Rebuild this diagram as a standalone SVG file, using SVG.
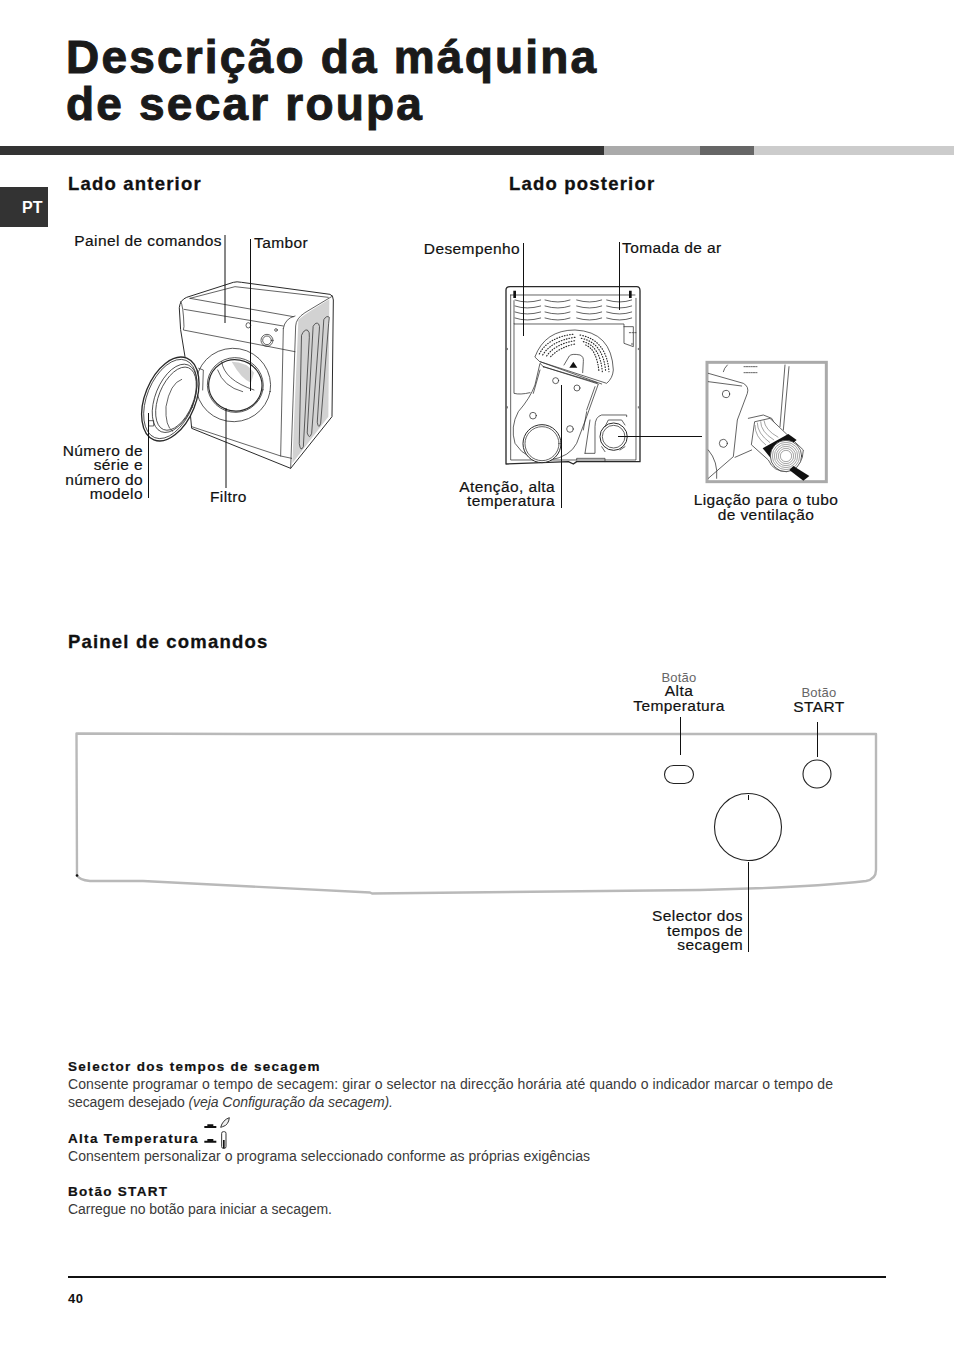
<svg xmlns="http://www.w3.org/2000/svg" width="954" height="1351" viewBox="0 0 954 1351">
<style>
text{font-family:"Liberation Sans",Arial,sans-serif;fill:#111}
.title{font-size:46px;font-weight:700;letter-spacing:2.2px;fill:#1a1a1a;stroke:#1a1a1a;stroke-width:1}
.h{font-size:18.500px;font-weight:700;letter-spacing:1.2px;stroke:#111;stroke-width:.3}
.l{font-size:15.500px;letter-spacing:.4px;stroke:#111;stroke-width:.2}
.s{font-size:13px;fill:#666;letter-spacing:.2px}
.b{font-size:13.500px;font-weight:700;letter-spacing:1.3px;stroke:#111;stroke-width:.2}
.p{font-size:14px;fill:#3a3a3a}
.e{text-anchor:end}
.m{text-anchor:middle}
.lead{stroke:#111;stroke-width:1;fill:none}
.d{fill:none;stroke:#2a2a2a;stroke-width:2.2;stroke-linejoin:round;stroke-linecap:round}
.w{fill:#fff}
.g{fill:#d2d2d2;stroke:none}
.k{fill:#111;stroke:none}
.panel{fill:none;stroke:#b9b9b9;stroke-width:2.4;stroke-linejoin:round}
.btn{fill:#fff;stroke:#222;stroke-width:1.1}
</style>

<g id="header">
<text class="title" x="66" y="73">Descrição da máquina</text>
<text class="title" x="66" y="120">de secar roupa</text>
<rect x="0" y="146" width="604" height="9" fill="#333"/>
<rect x="604" y="146" width="96" height="9" fill="#aaa"/>
<rect x="700" y="146" width="54" height="9" fill="#666"/>
<rect x="754" y="146" width="200" height="9" fill="#ccc"/>
<rect x="0" y="187" width="48" height="40" fill="#333"/>
<text x="22" y="213" style="font-size:16px;font-weight:700;fill:#fff">PT</text>
</g>

<g id="headings">
<text class="h" x="68" y="190">Lado anterior</text>
<text class="h" x="509" y="190">Lado posterior</text>
<text class="h" x="68" y="648">Painel de comandos</text>
</g>

<g id="front-machine" transform="translate(50 220) scale(.33333)">
<path class="d w" style="stroke-width:3" d="M388 262Q390 240 410 232L550 187Q560 184 575 187L840 223Q850 226 850 240L846 590L722 745L425 625L405 410L392 330Z"/>
<path class="g" d="M745 300Q760 285 838 238L835 590L727 730Z"/>
<path class="d" d="M420 235L555 200L835 232M420 235L730 290"/>
<path class="d" d="M722 745L737 318Q738 295 765 278L848 228M700 325Q705 295 735 288M700 325L692 708"/>
<path class="d" d="M392 245Q400 255 402 320L400 330L735 395M402 268L700 318"/>
<path class="d" d="M755 345Q762 328 772 330Q780 335 778 352L760 680Q752 698 748 672ZM790 318Q798 304 806 312Q810 318 808 330L785 640Q778 660 772 640ZM822 298Q830 285 838 292L836 310L812 610Q806 630 802 608Z"/>
<circle class="d" cx="651" cy="361" r="18"/><circle class="d" cx="651" cy="361" r="13"/>
<circle class="d" cx="678" cy="330" r="4"/><ellipse class="d" cx="595" cy="316" rx="7" ry="8"/>
<path class="d" d="M425 620L692 708L725 715"/>
<ellipse class="d" cx="550" cy="495" rx="112" ry="110" transform="rotate(10 550 495)"/>
<path class="g" d="M545 425Q590 425 612 458L603 488Q575 478 545 425Z"/>
<ellipse class="d" cx="556" cy="495" rx="84" ry="82" transform="rotate(10 556 495)"/>
<ellipse class="d" cx="556" cy="496" rx="80" ry="77" transform="rotate(10 556 496)" style="stroke-width:3.500"/>
<path class="d" d="M515 425Q522 480 612 510M503 450Q520 500 578 515"/>
<ellipse class="d w" cx="361" cy="537" rx="76" ry="132" transform="rotate(22 361 537)" style="stroke-width:4"/>
<ellipse class="d" cx="361" cy="537" rx="70" ry="125" transform="rotate(22 361 537)"/>
<ellipse class="d" cx="374" cy="535" rx="58" ry="108" transform="rotate(22 374 535)"/>
<ellipse class="d" cx="378" cy="536" rx="52" ry="100" transform="rotate(22 378 536)"/>
<path class="d" d="M395 478Q360 490 348 560Q345 620 368 634"/>
<rect class="d" x="297" y="602" width="14" height="16"/>
<path class="d" d="M446 445L460 450L458 510"/>
</g>

<g id="back-machine" transform="translate(420 230) scale(.33333)">
<path class="d" style="stroke-width:4" d="M258 180Q258 170 270 170L650 170Q660 170 660 182L660 695L470 695L460 702L445 695L258 702Z"/>
<path class="d" d="M272 195L645 195M272 195L272 690L648 690L648 205"/>
<path class="k" d="M280 182h8v22h-8zM627 182h8v22h-8z"/>
<path class="d" d="M285 210Q320 222 362 210M375 210Q415 222 450 210M470 210Q510 222 545 210M560 210Q600 222 635 210M285 228Q320 240 362 228M375 228Q415 240 450 228M470 228Q510 240 545 228M560 228Q600 240 635 228M285 246Q320 258 362 246M375 246Q415 258 450 246M470 246Q510 258 545 246M560 246Q600 258 635 246M285 264Q320 276 362 264M375 264Q415 276 450 264M470 264Q510 276 545 264M560 264Q600 276 635 264"/>
<path class="d" d="M282 212V282H612V340L640 350V290H612M282 282V490Q300 495 330 488"/>
<path class="d" d="M345 380Q375 300 465 300Q575 305 580 420Q578 445 560 460L360 395Z"/>
<path class="d" stroke-dasharray="2 6" style="stroke-width:3.500" d="M358 372Q385 320 465 312M368 375Q395 332 465 322M380 378Q405 342 465 332M392 380Q418 352 465 342M480 315Q560 330 567 425M484 325Q550 338 557 425M490 335Q540 348 547 425M497 345Q530 358 537 425"/>
<path class="d" d="M432 405L448 378Q455 370 480 375Q492 380 490 395L488 428"/>
<path class="k" d="M460 395l12 18h-24z"/>
<path class="d w" d="M370 410L360 400L345 465Q330 505 295 545Q270 590 285 640Q320 695 390 690Q450 680 470 640L500 560L535 462L370 410Z"/>
<path class="d" d="M360 395L545 462M370 410L530 458M340 490L360 420M500 540L525 470M490 600L500 545"/>
<circle class="d w" cx="366" cy="641" r="57" style="stroke-width:3"/><circle class="d" cx="366" cy="641" r="51"/>
<circle class="d" cx="407" cy="452" r="9"/><circle class="d" cx="471" cy="474" r="9"/><circle class="d" cx="339" cy="557" r="10"/><circle class="d" cx="450" cy="597" r="10"/>
<path class="d" d="M495 670H525V590Q525 560 545 555H620V560M510 570L495 670M470 690V685H555V695"/>
<circle class="d w" cx="581" cy="620" r="41" style="stroke-width:3"/><circle class="d" cx="581" cy="620" r="34"/>
<path class="d" d="M555 590L565 570H605L615 585M545 650L555 665M600 660L615 650"/>
<path class="d" d="M262 355v4M262 530v6M655 355v4M655 530v6M628 308h24M636 340v8" stroke-dasharray="4 4"/>
</g>

<g id="vent-detail" transform="translate(640 350) scale(.33333)">
<rect x="201" y="37" width="358" height="358" fill="#fff" stroke="#aaa" stroke-width="9"/>
<path class="d" d="M205 70L310 100Q328 110 322 130L292 210L280 320L205 385M205 95L305 108M205 300Q235 335 230 385M285 322L335 300M435 45L420 230M447 50L430 240M262 45Q252 55 250 65"/>
<circle class="d" cx="258" cy="132" r="11"/><circle class="d" cx="250" cy="280" r="12"/>
<path class="d" d="M312 50h40M312 68h40" stroke-dasharray="4 3"/>
<path class="d" d="M325 205L370 195L395 205L425 255"/>
<path class="d w" d="M345 215L390 205L490 300Q490 350 440 365Q400 365 385 330L335 285Z"/>
<path stroke="#777" stroke-width="2" fill="none" d="M345 225Q345 260 378 285M352 218Q352 250 390 278M362 214Q362 245 402 270M372 211Q375 240 415 262"/>
<path class="k" d="M368 295L445 252L470 270L395 328Z"/>
<circle class="d w" cx="438" cy="318" r="47"/>
<circle cx="438" cy="318" r="41" fill="none" stroke="#777" stroke-width="2"/><circle cx="438" cy="318" r="35" fill="none" stroke="#777" stroke-width="2"/><circle cx="438" cy="318" r="29" fill="none" stroke="#777" stroke-width="2"/><circle cx="438" cy="318" r="23" fill="none" stroke="#777" stroke-width="2"/><circle cx="438" cy="318" r="17" fill="none" stroke="#777" stroke-width="2"/>
<path class="k" d="M460 348L508 378L490 392L448 360Z"/>
</g>

<g id="control-panel">
<path class="panel" d="M76.500 733.500L250 734L876 734V870Q876 879 866 881Q800 888 700 890L372 893.500L370 892.500L143 881L90 881Q79 880 77 875Z"/>
<circle cx="77" cy="875.500" r="1.300" fill="#111"/>
<rect class="btn" x="664.500" y="765.500" width="29" height="18" rx="9"/>
<circle class="btn" cx="817" cy="774" r="14"/>
<circle class="btn" cx="748" cy="827" r="33.500"/>
<line class="lead" x1="748.500" y1="795" x2="748.500" y2="800"/>
</g>

<g id="connectors">
<path class="lead" d="M225 235V323M250.500 239V391M148.500 413V498M226 408V488M523.500 243V336M619.500 242V310M561.500 385V508M618 436.500H702M680.500 717V755M817.500 722V757M748.500 862V952"/>
</g>

<g id="labels">
<text class="l e" x="222" y="246">Painel de comandos</text>
<text class="l" x="254" y="248">Tambor</text>
<text class="l e" x="143" y="456">Número de</text>
<text class="l e" x="143" y="470">série e</text>
<text class="l e" x="143" y="485">número do</text>
<text class="l e" x="143" y="499">modelo</text>
<text class="l" x="210" y="502">Filtro</text>
<text class="l e" x="520" y="254">Desempenho</text>
<text class="l" x="622" y="253">Tomada de ar</text>
<text class="l e" x="555" y="492">Atenção, alta</text>
<text class="l e" x="555" y="506">temperatura</text>
<text class="l m" x="766" y="505">Ligação para o tubo</text>
<text class="l m" x="766" y="520">de ventilação</text>
<text class="s m" x="679" y="682">Botão</text>
<text class="l m" x="679" y="696">Alta</text>
<text class="l m" x="679" y="711">Temperatura</text>
<text class="s m" x="819" y="697">Botão</text>
<text class="l m" x="819" y="712">START</text>
<text class="l e" x="743" y="921">Selector dos</text>
<text class="l e" x="743" y="936">tempos de</text>
<text class="l e" x="743" y="950">secagem</text>
</g>

<g id="description">
<text class="b" x="68" y="1071">Selector dos tempos de secagem</text>
<text class="p" x="68" y="1089" textLength="765">Consente programar o tempo de secagem: girar o selector na direcção horária até quando o indicador marcar o tempo de</text>
<text class="p" x="68" y="1107" textLength="325">secagem desejado <tspan font-style="italic">(veja Configuração da secagem).</tspan></text>
<text class="b" x="68" y="1143">Alta Temperatura</text>
<g id="icons" transform="translate(60 1110) scale(.33333)">
<path class="k" d="M433 48h36v6h-36zM442 43h18v5h-18zM433 92h36v6h-36zM442 87h18v5h-18z"/>
<path d="M482 52Q488 30 508 23Q506 45 488 50Z" fill="#eee" stroke="#333" stroke-width="3"/>
<rect x="485" y="65" width="13" height="50" rx="5" fill="#fff" stroke="#333" stroke-width="3"/>
<path class="k" d="M489 90h5v25h-5z"/>
</g>
<text class="p" x="68" y="1161" textLength="522">Consentem personalizar o programa seleccionado conforme as próprias exigências</text>
<text class="b" x="68" y="1196">Botão START</text>
<text class="p" x="68" y="1214" textLength="264">Carregue no botão para iniciar a secagem.</text>
</g>

<g id="footer">
<rect x="68" y="1276" width="818" height="2" fill="#111"/>
<text x="68" y="1303" style="font-size:13px;font-weight:700;letter-spacing:.5px">40</text>
</g>
</svg>
